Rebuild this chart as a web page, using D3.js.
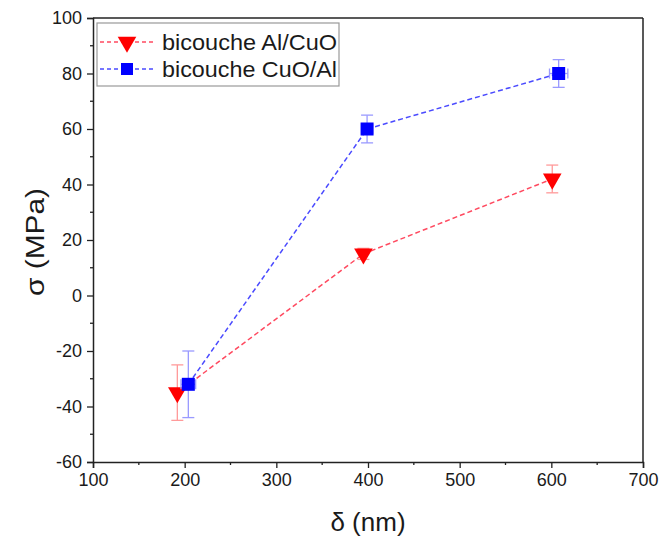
<!DOCTYPE html>
<html><head><meta charset="utf-8">
<script src="https://cdn.jsdelivr.net/npm/d3@7"></script>
<style>body{margin:0;background:#fff}text{font-family:Arial,"Liberation Sans",sans-serif;fill:#1a1a1a}</style>
</head><body>
<svg id="c" width="659" height="541"></svg>
<script>
const xAlCuO = [192, 395, 601];
const yAlCuO = [-35, 15, 42];
const errAlCuO = [10, 2, 5];
const xCuOAl = [204, 399, 608];
const yCuOAl = [-32, 60, 80];
const errCuOAl = [12, 5, 5];
const xerrCuOAl = [8, 6, 10];
const xTicks = [100, 200, 300, 400, 500, 600, 700];
const yTicks = [-60, -40, -20, 0, 20, 40, 60, 80, 100];
const seriesNames = ["bicouche Al/CuO", "bicouche CuO/Al"];

const svg = d3.select("#c");
const L = 93, R = 643, T = 18, B = 462;
const x = d3.scaleLinear().domain([100, 700]).range([L, R]);
const y = d3.scaleLinear().domain([-60, 100]).range([B, T]);

svg.append("line").attr("x1", L).attr("x2", R).attr("y1", T).attr("y2", T).attr("stroke", "#222").attr("stroke-width", 1.5);
svg.append("line").attr("x1", R).attr("x2", R).attr("y1", T).attr("y2", B).attr("stroke", "#222").attr("stroke-width", 1.5);

const fmt = d => String(d);
const xMinor = d3.range(150, 700, 100);
const yMinor = d3.range(-50, 100, 20);
const gx = svg.append("g").attr("transform", `translate(0,${B})`)
  .call(d3.axisBottom(x).tickValues(xTicks).tickFormat(fmt).tickSize(6).tickPadding(5));
gx.append("g").selectAll("line").data(xMinor).join("line")
  .attr("x1", d => x(d)).attr("x2", d => x(d)).attr("y1", 0).attr("y2", 3).attr("stroke", "#222").attr("stroke-width", 1.3);
const gy = svg.append("g").attr("transform", `translate(${L},0)`)
  .call(d3.axisLeft(y).tickValues(yTicks).tickFormat(fmt).tickSize(6).tickPadding(5));
gy.append("g").selectAll("line").data(yMinor).join("line")
  .attr("y1", d => y(d)).attr("y2", d => y(d)).attr("x1", 0).attr("x2", -3).attr("stroke", "#222").attr("stroke-width", 1.3);
[gx, gy].forEach(g => {
  g.select(".domain").attr("stroke", "#222").attr("stroke-width", 1.5);
  g.selectAll(".tick line").attr("stroke", "#222").attr("stroke-width", 1.3);
  g.selectAll(".tick text").attr("font-size", 18).attr("fill", "#1a1a1a").style("font-family", "Arial, 'Liberation Sans', sans-serif");
});

svg.append("text").attr("x", (L + R) / 2).attr("y", 531).attr("text-anchor", "middle").attr("font-size", 26).text("δ (nm)");
svg.append("text").attr("transform", `translate(44,${(T + B) / 2 + 2}) rotate(-90)`).attr("text-anchor", "middle").attr("font-size", 26)
  .attr("textLength", 108).attr("lengthAdjust", "spacingAndGlyphs").text("σ (MPa)");

const series = [
  {xs: xAlCuO, ys: yAlCuO, err: errAlCuO, xerr: null, color: "#ff0000", line: "#ff4a60", ebar: "#ff9a9a", shape: "tri"},
  {xs: xCuOAl, ys: yCuOAl, err: errCuOAl, xerr: xerrCuOAl, color: "#0000ff", line: "#4a4aff", ebar: "#9a9aff", shape: "sq"}
];
const triPath = d3.symbol().type(d3.symbolTriangle).size(150)();

series.forEach(s => {
  const pts = s.xs.map((v, i) => [v, s.ys[i]]);
  svg.append("path").attr("d", d3.line().x(d => x(d[0])).y(d => y(d[1]))(pts))
    .attr("fill", "none").attr("stroke", s.line).attr("stroke-width", 1.5).attr("stroke-dasharray", "5,3");
  const g = svg.append("g");
  pts.forEach((p, i) => {
    const cx = x(p[0]), cy = y(p[1]);
    const e = s.err[i];
    g.append("line").attr("x1", cx).attr("x2", cx).attr("y1", y(p[1] + e)).attr("y2", y(p[1] - e)).attr("stroke", s.ebar).attr("stroke-width", 1.3);
    [p[1] + e, p[1] - e].forEach(v => g.append("line").attr("x1", cx - 6).attr("x2", cx + 6).attr("y1", y(v)).attr("y2", y(v)).attr("stroke", s.ebar).attr("stroke-width", 1.3));
    if (s.xerr) {
      const xe = s.xerr[i];
      g.append("line").attr("x1", x(p[0] - xe)).attr("x2", x(p[0] + xe)).attr("y1", cy).attr("y2", cy).attr("stroke", s.ebar).attr("stroke-width", 1.3);
      [p[0] - xe, p[0] + xe].forEach(v => g.append("line").attr("x1", x(v)).attr("x2", x(v)).attr("y1", cy - 5).attr("y2", cy + 5).attr("stroke", s.ebar).attr("stroke-width", 1.3));
    }
  });
  pts.forEach(p => {
    const cx = x(p[0]), cy = y(p[1]);
    if (s.shape === "tri") g.append("path").attr("d", triPath).attr("transform", `translate(${cx},${cy}) rotate(180)`).attr("fill", s.color);
    else g.append("rect").attr("x", cx - 6.5).attr("y", cy - 6.5).attr("width", 13).attr("height", 13).attr("fill", s.color);
  });
});

const lg = svg.append("g");
lg.append("rect").attr("x", 97).attr("y", 23).attr("width", 242).attr("height", 63).attr("fill", "#fff").attr("stroke", "#999").attr("stroke-width", 1.2);
series.forEach((s, i) => {
  const ly = 42 + i * 27;
  lg.append("line").attr("x1", 100).attr("x2", 153).attr("y1", ly).attr("y2", ly).attr("stroke", s.line).attr("stroke-width", 1.4).attr("stroke-dasharray", "4,3");
  if (s.shape === "tri") lg.append("path").attr("d", triPath).attr("transform", `translate(127,${ly}) rotate(180)`).attr("fill", s.color);
  else lg.append("rect").attr("x", 121).attr("y", ly - 6).attr("width", 12).attr("height", 12).attr("fill", s.color);
  lg.append("text").attr("x", 162).attr("y", ly + 8).attr("font-size", 22).attr("textLength", 175).attr("lengthAdjust", "spacingAndGlyphs").text(seriesNames[i]);
});
</script>
</body></html>
